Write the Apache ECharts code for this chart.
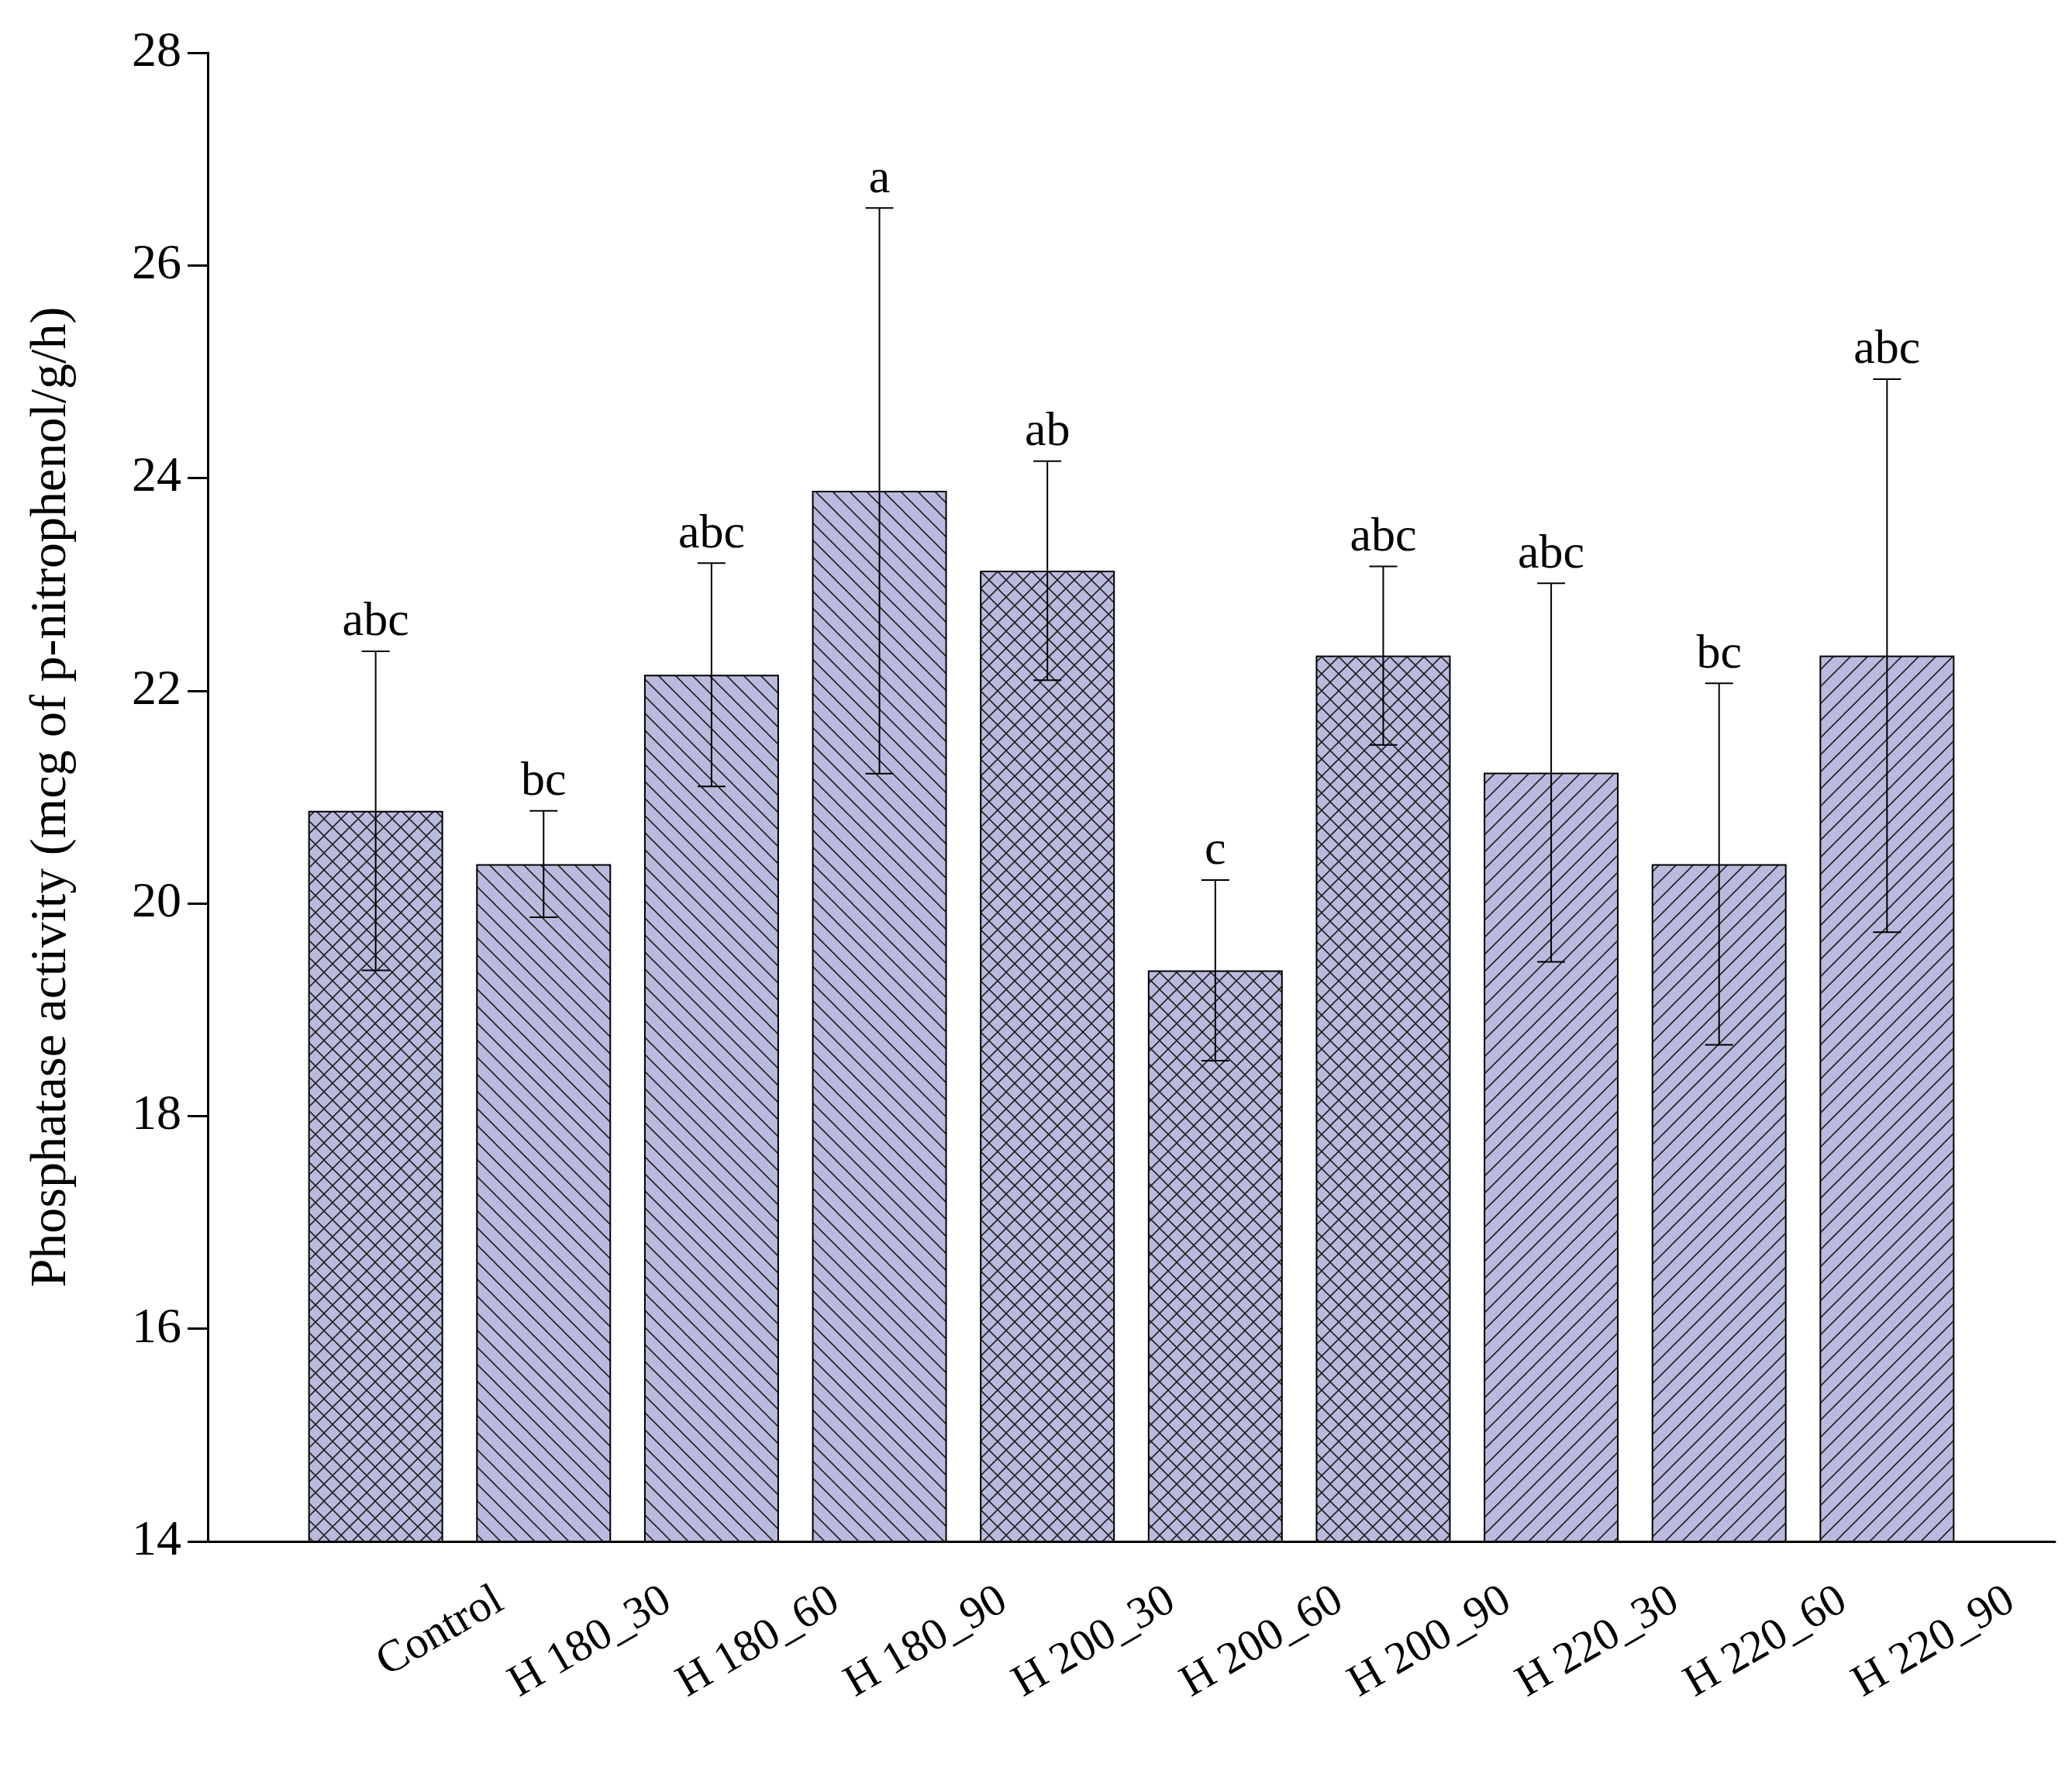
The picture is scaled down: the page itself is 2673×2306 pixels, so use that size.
<!DOCTYPE html>
<html><head><meta charset="utf-8">
<script src="https://cdn.jsdelivr.net/npm/echarts@6/dist/echarts.min.js"></script>
<style>html,body{margin:0;background:#fff}#chart{width:2673px;height:2306px}</style>
</head><body><div id="chart"></div>
<script>
const categories = ["Control", "H 180_30", "H 180_60", "H 180_90", "H 200_30", "H 200_60", "H 200_90", "H 220_30", "H 220_60", "H 220_90"];
const means = [20.87, 20.37, 22.15, 23.88, 23.13, 19.37, 22.33, 21.23, 20.37, 22.33];
const errors = [1.5, 0.5, 1.05, 2.66, 1.03, 0.85, 0.84, 1.78, 1.7, 2.6];
const letters = ["abc", "bc", "abc", "a", "ab", "c", "abc", "abc", "bc", "abc"];
const hatches = ["x", "\\", "\\", "\\", "x", "x", "x", "/", "/", "/"];

const FONT = "Liberation Serif";

function hatchPattern(kind) {
  const s = 22;
  const c = document.createElement("canvas");
  c.width = s; c.height = s;
  const g = c.getContext("2d");
  g.fillStyle = "#babade";
  g.fillRect(0, 0, s, s);
  g.strokeStyle = "#222";
  g.lineWidth = 1.6;
  const back = () => { g.beginPath(); g.moveTo(-2, -2); g.lineTo(s + 2, s + 2); g.stroke();
    g.beginPath(); g.moveTo(s - 2, -2); g.lineTo(s + 2, 2); g.moveTo(-2, s - 2); g.lineTo(2, s + 2); g.stroke(); };
  const fwd = () => { g.beginPath(); g.moveTo(-2, s + 2); g.lineTo(s + 2, -2); g.stroke();
    g.beginPath(); g.moveTo(-2, 2); g.lineTo(2, -2); g.moveTo(s - 2, s + 2); g.lineTo(s + 2, s - 2); g.stroke(); };
  if (kind === "\\") back();
  else if (kind === "/") fwd();
  else { back(); fwd(); }
  return c;
}

// pad the axis with an empty slot at each end so bars sit one step in from the ends
const axisCats = [""].concat(categories, [""]);
const isReal = (i) => i > 0 && i <= categories.length;

const chart = echarts.init(document.getElementById("chart"));

const barData = [null].concat(means.map((v, i) => ({
  value: v,
  itemStyle: { color: { image: hatchPattern(hatches[i]), repeat: "repeat" } }
})), [null]);

option = {
  animation: false,
  grid: { left: 268, right: 22, top: 68, bottom: 318 },
  xAxis: {
    type: "category",
    data: axisCats,
    boundaryGap: false,
    axisLine: { lineStyle: { color: "#000", width: 3 } },
    axisTick: { inside: true, length: 32, interval: (i) => isReal(i), lineStyle: { color: "#000", width: 3 } },
    axisLabel: {
      rotate: 30, interval: 0, margin: 165, color: "#000",
      fontFamily: FONT, fontSize: 58, padding: [0, -185, 0, 0]
    }
  },
  yAxis: {
    type: "value", min: 14, max: 28, interval: 2,
    name: "Phosphatase activity (mcg of p-nitrophenol/g/h)",
    nameLocation: "middle", nameGap: 168,
    nameTextStyle: { fontFamily: FONT, fontSize: 66, color: "#000" },
    axisLine: { show: true, lineStyle: { color: "#000", width: 3 } },
    axisTick: { show: true, length: 26, lineStyle: { color: "#000", width: 3 } },
    axisLabel: { fontFamily: FONT, fontSize: 64, color: "#000", margin: 34 },
    splitLine: { show: false }
  },
  series: [{
    type: "bar",
    data: barData,
    barWidth: 174,
    itemStyle: { borderColor: "#000", borderWidth: 2 }
  }, {
    type: "custom",
    data: means.map((v, i) => [i + 1, v, errors[i], i]),
    z: 10,
    renderItem: function (params, api) {
      const i = api.value(0), m = api.value(1), e = api.value(2);
      const top = api.coord([i, m + e]);
      const bot = api.coord([i, m - e]);
      const w = 18;
      const st = { stroke: "#000", lineWidth: 2 };
      return {
        type: "group",
        children: [
          { type: "line", shape: { x1: top[0], y1: top[1], x2: bot[0], y2: bot[1] }, style: st },
          { type: "line", shape: { x1: top[0] - w, y1: top[1], x2: top[0] + w, y2: top[1] }, style: st },
          { type: "line", shape: { x1: bot[0] - w, y1: bot[1], x2: bot[0] + w, y2: bot[1] }, style: st },
          { type: "text", style: { text: letters[params.dataIndex], x: top[0], y: top[1] - 6,
            textAlign: "center", textVerticalAlign: "bottom", fontFamily: FONT, fontSize: 62, fill: "#000" } }
        ]
      };
    }
  }]
};

chart.setOption(option);
window.onresize = chart.resize;
</script>
</body></html>
